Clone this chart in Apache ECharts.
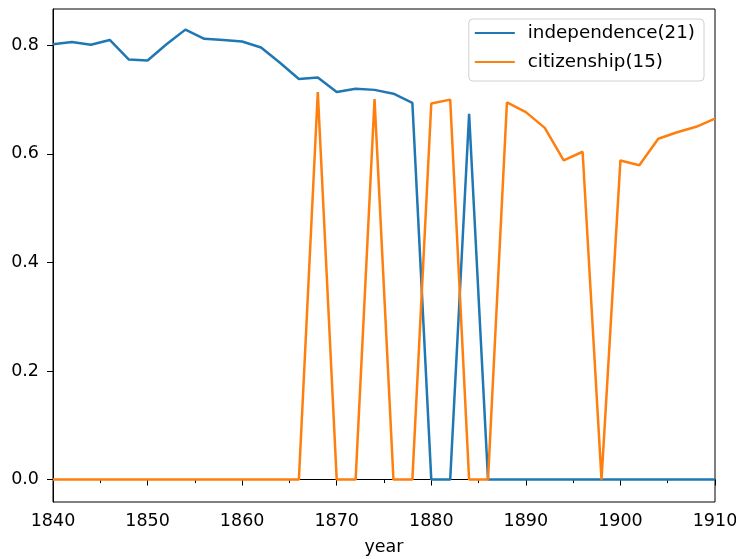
<!DOCTYPE html>
<html>
<head>
<meta charset="utf-8">
<script src="https://cdn.jsdelivr.net/npm/echarts@6/dist/echarts.min.js"></script>
<style>
  html, body { margin: 0; padding: 0; background: #fff; }
  #chart { width: 736px; height: 559px; }
</style>
</head>
<body>
<div id="chart"></div>
<script>
var years = [];
for (var y = 1840; y <= 1910; y += 2) years.push(y);

var independence = [
  0.802, 0.806, 0.801, 0.810, 0.774, 0.772, 0.802, 0.829, 0.812, 0.810,
  0.807, 0.796, 0.768, 0.738, 0.741, 0.714, 0.720, 0.718, 0.711, 0.694,
  0, 0, 0.674, 0, 0, 0, 0, 0, 0, 0, 0, 0, 0, 0, 0, 0
];
var citizenship = [
  0, 0, 0, 0, 0, 0, 0, 0, 0, 0, 0, 0, 0, 0,
  0.714, 0, 0, 0.701, 0, 0, 0.693, 0.700, 0, 0,
  0.695, 0.677, 0.648, 0.588, 0.604, 0, 0.588, 0.579, 0.628, 0.640, 0.650, 0.665
];
var yTicks = [0, 0.2, 0.4, 0.6, 0.8];

function pairs(vals) {
  return years.map(function (yr, i) { return [yr, vals[i]]; });
}

var chartDom = document.getElementById('chart');
var myChart = echarts.init(chartDom);
var font = 'DejaVu Sans';

var option = {
  animation: false,
  textStyle: { fontFamily: font },
  grid: {
    left: 53, right: 21, top: 9, bottom: 57,
    outerBoundsMode: 'none', containLabel: false,
    show: true, borderColor: '#000', borderWidth: 1
  },
  legend: {
    orient: 'vertical',
    right: 32, top: 19,
    padding: [5, 9, 10, 6],
    itemGap: 11,
    itemWidth: 40, itemHeight: 2,
    icon: 'rect',
    backgroundColor: 'rgba(255,255,255,0.8)',
    borderColor: '#d0d0d0', borderWidth: 1, borderRadius: 4,
    textStyle: { fontFamily: font, fontSize: 18.3, color: '#000', padding: [0, 0, 0, 8], lineHeight: 18 },
    data: ['independence(21)', 'citizenship(15)']
  },
  xAxis: {
    type: 'value',
    min: 1840, max: 1910, interval: 10,
    name: 'year', nameLocation: 'middle', nameGap: 36,
    nameTextStyle: { fontFamily: font, fontSize: 17.5, color: '#000' },
    axisLine: { lineStyle: { color: '#000', width: 1 } },
    axisTick: { length: 6, lineStyle: { color: '#000' } },
    minorTick: { show: true, splitNumber: 2, length: 3.5, lineStyle: { color: '#000' } },
    axisLabel: {
      fontFamily: font, fontSize: 17.5, color: '#000', margin: 10,
      formatter: function (v) { return String(v); }
    },
    splitLine: { show: false }
  },
  yAxis: {
    type: 'value',
    min: -0.0413, max: 0.867,
    axisLine: { show: true, lineStyle: { color: '#000', width: 1 } },
    axisTick: { show: true, length: 6, customValues: yTicks, lineStyle: { color: '#000' } },
    axisLabel: {
      fontFamily: font, fontSize: 17.5, color: '#000', margin: 14,
      customValues: yTicks,
      formatter: function (v) { return v.toFixed(1); }
    },
    splitLine: { show: false }
  },
  series: [
    {
      name: 'independence(21)', type: 'line', data: pairs(independence),
      showSymbol: false, symbol: 'none',
      lineStyle: { color: '#1f77b4', width: 2.5 }, itemStyle: { color: '#1f77b4' }
    },
    {
      name: 'citizenship(15)', type: 'line', data: pairs(citizenship),
      showSymbol: false, symbol: 'none',
      lineStyle: { color: '#ff7f0e', width: 2.5 }, itemStyle: { color: '#ff7f0e' }
    }
  ]
};

option && myChart.setOption(option);
</script>
</body>
</html>
